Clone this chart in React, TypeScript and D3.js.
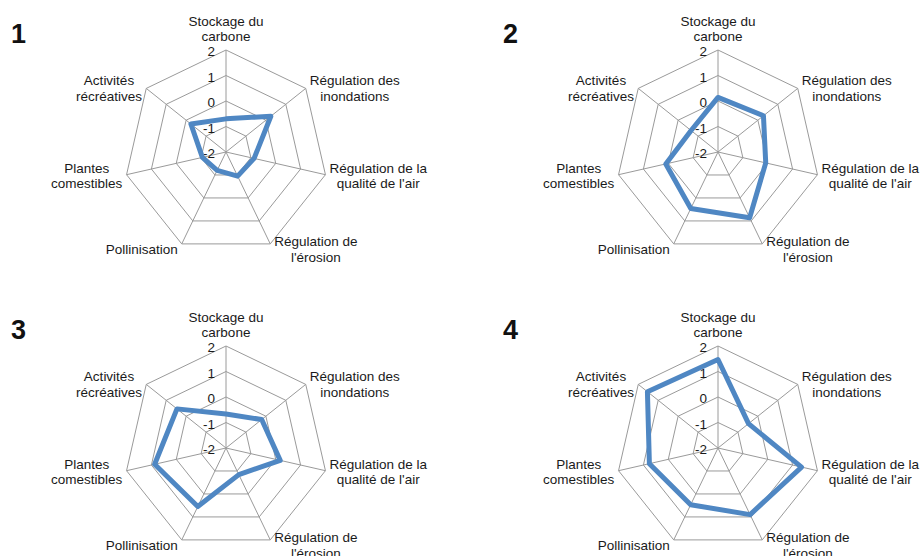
import { useEffect, useRef } from "react";
import * as d3 from "d3";

// axes of the radar, clockwise from the top ("\n" = line break in the label)
const categories = [
    "Stockage du\ncarbone",
    "Régulation des\ninondations",
    "Régulation de la\nqualité de l'air",
    "Régulation de\nl'érosion",
    "Pollinisation",
    "Plantes\ncomestibles",
    "Activités\nrécréatives",
];

const ticks = [-2, -1, 0, 1, 2];
const panelLabels = ["1", "2", "3", "4"];

// scores per panel, same order as categories
const scores1 = [-0.7, 0.25, -0.87, -0.95, -1.2, -1.05, -0.24];
const scores2 = [0.14, 0.28, -0.08, 0.86, 0.46, 0.1, -0.65];
const scores3 = [-0.67, -0.21, 0.18, -0.84, 0.55, 0.87, 0.46];
const scores4 = [1.47, -0.47, 1.36, 0.9, 0.47, 0.76, 1.54];
const allScores = [scores1, scores2, scores3, scores4];

const W = 922;
const H = 556;
const R = 102;
const FONT = "'Liberation Sans', Arial, Helvetica, sans-serif";
const GRID = "#9a9a9a";
const BLUE = "#4f87c3";

export default function App() {
    const svgRef = useRef<SVGSVGElement>(null);

    useEffect(() => {
        const svg = d3.select(svgRef.current);
        svg.selectAll("*").remove();

        const n = categories.length;
        const angle = (i: number) => (i * 2 * Math.PI) / n;
        const r = d3.scaleLinear().domain([-2, 2]).range([0, R]);

        // 2x2 grid of panels
        const colX = d3.scaleOrdinal<number, number>().domain([0, 1]).range([226, 718]);
        const rowY = d3.scaleOrdinal<number, number>().domain([0, 1]).range([152, 448]);

        const radial = d3.lineRadial<number>()
            .angle((_, i) => angle(i))
            .radius(d => r(d))
            .curve(d3.curveLinearClosed);

        allScores.forEach((scores, p) => {
            const cx = colX(p % 2);
            const cy = rowY(Math.floor(p / 2));
            const g = svg.append("g").attr("transform", `translate(${cx},${cy})`);

            // panel number
            svg.append("text")
                .attr("x", cx - 215)
                .attr("y", cy - 109)
                .attr("font-family", FONT)
                .attr("font-size", 27)
                .attr("font-weight", "bold")
                .attr("fill", "#111")
                .text(panelLabels[p]);

            // rings
            ticks.filter(t => t > ticks[0]).forEach(t => {
                g.append("path")
                    .attr("d", radial(d3.range(n).map(() => t)))
                    .attr("fill", "none")
                    .attr("stroke", GRID)
                    .attr("stroke-width", 1);
            });

            // spokes
            d3.range(n).forEach(i => {
                g.append("line")
                    .attr("x1", 0)
                    .attr("y1", 0)
                    .attr("x2", r(2) * Math.sin(angle(i)))
                    .attr("y2", -r(2) * Math.cos(angle(i)))
                    .attr("stroke", GRID)
                    .attr("stroke-width", 1);
            });

            // tick labels
            ticks.forEach(t => {
                g.append("text")
                    .attr("x", -11)
                    .attr("y", -r(t) + 6)
                    .attr("text-anchor", "end")
                    .attr("font-family", FONT)
                    .attr("font-size", 13.5)
                    .attr("fill", "#1a1a1a")
                    .text(t);
            });

            // data line
            g.append("path")
                .attr("d", radial(scores))
                .attr("fill", "none")
                .attr("stroke", BLUE)
                .attr("stroke-width", 5)
                .attr("stroke-linejoin", "round");

            // category labels
            categories.forEach((c, i) => {
                const ux = Math.sin(angle(i));
                const uy = -Math.cos(angle(i));
                const vx = R * ux;
                const vy = R * uy;
                const lab = g.append("g");
                const txt = lab.append("text")
                    .attr("text-anchor", "middle")
                    .attr("font-family", FONT)
                    .attr("font-size", 13.5)
                    .attr("fill", "#1a1a1a");
                c.split("\n").forEach((line, k) => {
                    txt.append("tspan").attr("x", 0).attr("y", k * 15.5).text(line);
                });
                const bb = (txt.node() as SVGTextElement).getBBox();
                let tx: number;
                let ty: number;
                if (Math.abs(ux) < 0.05) {
                    tx = vx;
                    ty = vy - 6 - (bb.y + bb.height);
                } else {
                    tx = ux > 0 ? vx + 4 - bb.x : vx - 4 - (bb.x + bb.width);
                    ty = vy + 6 * Math.max(0, uy) - (bb.y + bb.height / 2);
                }
                lab.attr("transform", `translate(${tx},${ty})`);
            });
        });
    }, []);

    return (
        <svg
            ref={svgRef}
            width={W}
            height={H}
            style={{ position: "absolute", left: 0, top: 0, background: "#fff" }}
        />
    );
}
